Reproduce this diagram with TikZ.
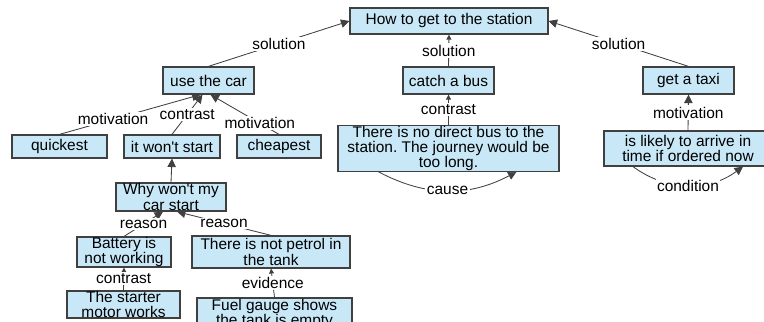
\documentclass[tikz,border=0pt]{standalone}
\usepackage{fontspec}
\setmainfont{Liberation Sans}
\usetikzlibrary{arrows.meta}
\definecolor{boxblue}{RGB}{200,232,248}
\definecolor{boxline}{RGB}{64,64,64}
\tikzset{
  box/.style={draw=boxline, line width=0.9pt, fill=boxblue, align=center,
    inner xsep=2pt, inner ysep=0pt, font=\fontsize{11}{11}\selectfont},
  lbl/.style={fill=white, inner sep=1pt, font=\fontsize{11}{11}\selectfont},
  link/.style={draw=boxline, line width=0.6pt, -{Triangle[length=6pt,width=6pt]}},
  small/.style={-{Triangle[length=3.5pt,width=3.5pt]}}
}
\frenchspacing
\begin{document}
\begin{tikzpicture}[x=1cm,y=1cm]
  \useasboundingbox (0,0) rectangle (19.1,8.05);
  \clip (0,0) rectangle (19.1,8.05);
  \node[box, minimum width=4.95cm, minimum height=0.65cm] (title) at (11.225,7.525) {How to get to the station};
  \node[box, minimum width=2.275cm, minimum height=0.675cm] (car) at (5.2125,6.0375) {use the car};
  \node[box, minimum width=2.275cm, minimum height=0.675cm] (bus) at (11.2125,6.0375) {catch a bus};
  \node[box, minimum width=2.275cm, minimum height=0.675cm] (taxi) at (17.2125,6.0375) {get a taxi};
  \node[box, minimum width=2.375cm, minimum height=0.575cm] (quickest) at (1.4875,4.3875) {quickest};
  \node[box, minimum width=2.4cm, minimum height=0.575cm] (wontstart) at (4.3,4.3875) {it won\textquotesingle t start};
  \node[box, minimum width=2.1cm, minimum height=0.575cm] (cheapest) at (6.975,4.3875) {cheapest};
  \node[box, minimum width=5.525cm, minimum height=1.125cm] (nodirect) at (11.2125,4.3375) {There is no direct bus to the\\station. The journey would be\\too long.};
  \node[box, minimum width=4.2cm, minimum height=0.875cm] (likely) at (17.2,4.3375) {is likely to arrive in\\time if ordered now};
  \node[box, minimum width=2.75cm, minimum height=0.7cm] (why) at (4.275,3.125) {Why won\textquotesingle t my\\car start};
  \node[box, minimum width=2.35cm, minimum height=0.7cm] (battery) at (3.1,1.75) {Battery is\\not working};
  \node[box, minimum width=3.95cm, minimum height=0.8cm] (petrol) at (6.775,1.75) {There is not petrol in\\the tank};
  \node[box, minimum width=2.825cm, minimum height=0.675cm] (starter) at (3.0875,0.4375) {The starter\\motor works};
  \node[box, minimum width=3.875cm, minimum height=0.8cm] (fuel) at (6.8625,0.2) {Fuel gauge shows\\the tank is empty};
  \draw[link] (car.north) -- node[lbl] {solution} (title.west);
  \draw[link,small] (bus.north) -- node[lbl] {solution} (title.south);
  \draw[link] (taxi.north) -- node[lbl] {solution} (title.east);
  \draw[link] (quickest.north) -- node[lbl,pos=0.38] {motivation} ([xshift=-0.2cm]car.south);
  \draw[link] (wontstart.north) -- node[lbl] {contrast} ([xshift=-0.15cm]car.south);
  \draw[link] (cheapest.north) -- node[lbl,pos=0.28] {motivation} ([xshift=0.05cm]car.south);
  \draw[link] (why.north) -- (wontstart.south);
  \draw[link] (battery.north) -- node[lbl] {reason} ([xshift=-0.2cm]why.south);
  \draw[link] (petrol.north) -- node[lbl] {reason} ([xshift=0.15cm]why.south);
  \draw[link,small] (starter.north) -- node[lbl] {contrast} (battery.south);
  \draw[link,small] (fuel.north) -- node[lbl] {evidence} (petrol.south);
  \draw[link,small] (nodirect.north) -- node[lbl] {contrast} (bus.south);
  \draw[link] (likely.north) -- node[lbl] {motivation} (taxi.south);
  \draw[link] ([xshift=-1.75cm]nodirect.south) to[bend right=28] node[lbl] {cause} ([xshift=1.7cm]nodirect.south);
  \draw[link] ([xshift=-1.375cm]likely.south) to[bend right=36] node[lbl] {condition} ([xshift=1.375cm]likely.south);
\end{tikzpicture}
\end{document}
